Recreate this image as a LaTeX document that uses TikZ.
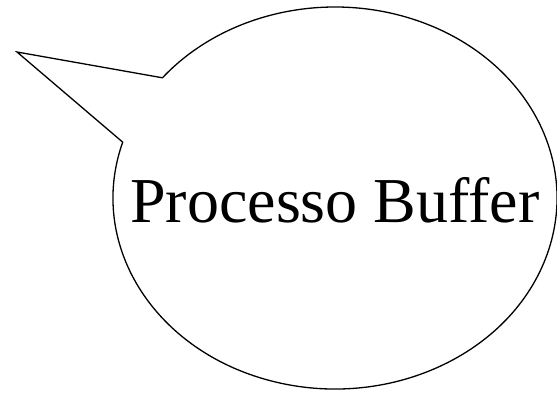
\documentclass[tikz,border=0pt]{standalone}
\usepackage{fontspec}
\setmainfont{Liberation Serif}
\usetikzlibrary{calc}
\begin{document}
\begin{tikzpicture}[x=1pt,y=1pt,
  bubble/.style={draw=black,line width=1.3pt,line join=miter},
  label/.style={font=\fontsize{64}{70}\selectfont,inner sep=0pt,anchor=base}]
\useasboundingbox (0,0) rectangle (557,394);
\coordinate (c) at (335,196);
\coordinate (tip) at (17,342);
\coordinate (j1) at ($(c)+(141:222 and 191)$);
\coordinate (j2) at ($(c)+(163:222 and 191)$);
\draw[bubble] (j1) -- (tip) -- (j2) arc[start angle=163,end angle=501,x radius=222,y radius=191] -- cycle;
\node[label] (t) at (335,171) {Processo Buffer};
\end{tikzpicture}
\end{document}
